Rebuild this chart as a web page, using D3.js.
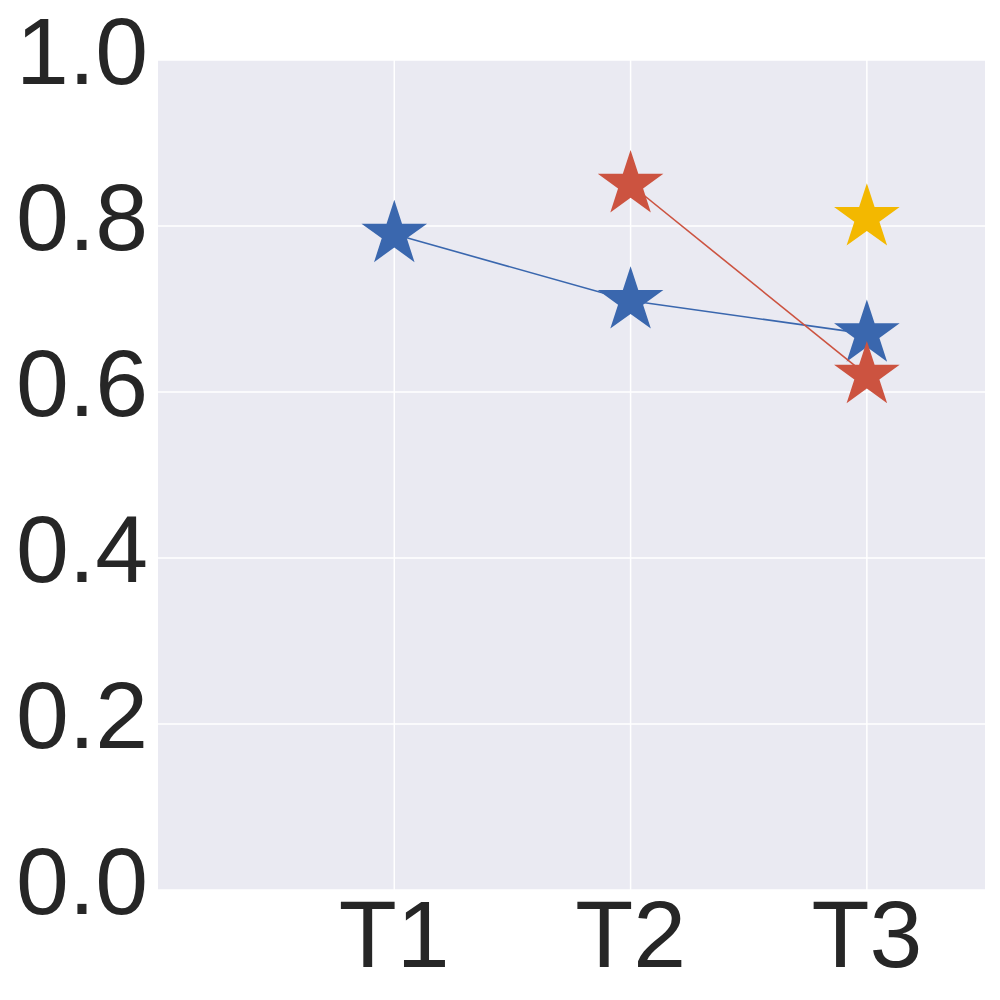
<!DOCTYPE html>
<html>
<head>
<meta charset="utf-8">
<script src="https://cdn.jsdelivr.net/npm/d3@7"></script>
<style>
  html, body { margin: 0; padding: 0; background: #ffffff; }
  svg { display: block; }
</style>
</head>
<body>
<svg id="chart" width="1000" height="1000"></svg>
<script>
const categories = ["T1", "T2", "T3"];
const yTicks = [0.0, 0.2, 0.4, 0.6, 0.8, 1.0];
const blueSeries = [{cat: "T1", v: 0.79}, {cat: "T2", v: 0.71}, {cat: "T3", v: 0.67}];
const redSeries = [{cat: "T2", v: 0.85}, {cat: "T3", v: 0.62}];
const yellowSeries = [{cat: "T3", v: 0.81}];
const seriesColors = ["#3A67AE", "#CC5340", "#F3B800"];

const svg = d3.select("#chart");
const margin = {left: 158, top: 60, right: 985, bottom: 890};

const x = d3.scaleLinear().domain([0, 3.5]).range([margin.left, margin.right]);
const catIndex = c => categories.indexOf(c) + 1;
const y = d3.scaleLinear().domain([0, 1]).range([margin.bottom, margin.top]);

svg.append("rect")
  .attr("x", margin.left).attr("y", margin.top)
  .attr("width", margin.right - margin.left)
  .attr("height", margin.bottom - margin.top)
  .attr("fill", "#EAEAF2");

// gridlines
const grid = svg.append("g");
grid.selectAll("line.h").data(yTicks).enter().append("line")
  .attr("x1", margin.left).attr("x2", margin.right)
  .attr("y1", d => y(d)).attr("y2", d => y(d))
  .attr("stroke", "#ffffff").attr("stroke-width", 1.5);
grid.selectAll("line.v").data(categories).enter().append("line")
  .attr("x1", d => x(catIndex(d))).attr("x2", d => x(catIndex(d)))
  .attr("y1", margin.top).attr("y2", margin.bottom)
  .attr("stroke", "#ffffff").attr("stroke-width", 1.5);

// axis labels
const font = "'Liberation Sans', Arial, sans-serif";
svg.append("g").selectAll("text").data(yTicks).enter().append("text")
  .attr("x", 148).attr("y", d => y(d) + 24)
  .attr("text-anchor", "end")
  .attr("font-family", font).attr("font-size", 95)
  .attr("fill", "#262626")
  .text(d => d3.format(".1f")(d));
svg.append("g").selectAll("text").data(categories).enter().append("text")
  .attr("x", d => x(catIndex(d))).attr("y", 967)
  .attr("text-anchor", "middle")
  .attr("font-family", font).attr("font-size", 95)
  .attr("fill", "#262626")
  .text(d => d);

const star = d3.symbol().type(d3.symbolStar).size(1336);
const line = d3.line().x(d => x(catIndex(d.cat))).y(d => y(d.v));

[blueSeries, redSeries, yellowSeries].forEach((s, i) => {
  const g = svg.append("g");
  g.append("path").datum(s).attr("d", line)
    .attr("fill", "none").attr("stroke", seriesColors[i]).attr("stroke-width", 1.6);
  g.selectAll("path.m").data(s).enter().append("path")
    .attr("d", star)
    .attr("transform", d => `translate(${x(catIndex(d.cat))},${y(d.v)})`)
    .attr("fill", seriesColors[i]);
});
</script>
</body>
</html>
